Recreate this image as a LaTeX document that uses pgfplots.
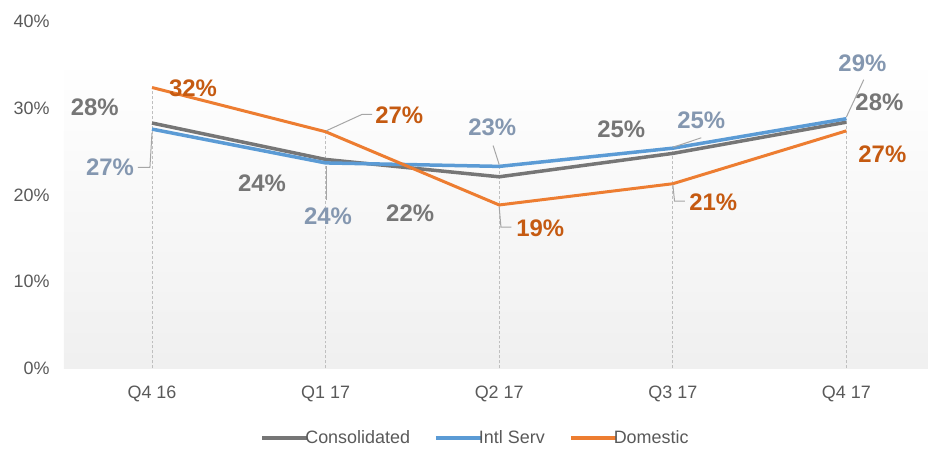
\documentclass[border=0pt]{standalone}
\usepackage{fontspec}
\setmainfont{Liberation Sans}
\usepackage{pgfplots}
\pgfplotsset{compat=1.18}
\definecolor{cgray}{RGB}{118,118,118}
\definecolor{cblue}{RGB}{91,155,213}
\definecolor{corange}{RGB}{237,125,49}
\definecolor{lgray}{RGB}{118,118,118}
\definecolor{lblue}{RGB}{132,151,176}
\definecolor{lorange}{RGB}{197,90,17}
\definecolor{tickc}{RGB}{89,89,89}
\definecolor{leader}{RGB}{166,166,166}
\definecolor{dropc}{RGB}{191,191,191}
\definecolor{axc}{RGB}{217,217,217}
\newcommand{\lab}{\fontsize{24}{26}\selectfont\bfseries}
\begin{document}
\begin{tikzpicture}
\begin{axis}[name=ax,
  scale only axis, width=864bp, height=346.8bp,
  xmin=-0.507, xmax=4.47, ymin=0, ymax=40,
  clip=false,
  axis x line*=bottom, axis y line*=left,
  x axis line style={draw=axc, line width=1.5bp},
  y axis line style={draw=none},
  major tick length=0pt,
  xtick={0,1,2,3,4},
  xticklabels={Q4 16, Q1 17, Q2 17, Q3 17, Q4 17},
  ytick={0,10,20,30,40},
  yticklabel={\pgfmathprintnumber{\tick}\%},
  /pgf/number format/assume math mode=true,
  tick label style={font=\fontsize{18}{20}\selectfont, text=tickc},
  xticklabel style={yshift=-14bp},
  yticklabel style={xshift=-11bp},
  legend style={at={(0.227,-0.2007)}, anchor=west, draw=none, fill=none,
    font=\fontsize{18}{20}\selectfont, text=tickc,
    legend columns=-1, /tikz/every even column/.append style={column sep=22bp},
    inner sep=0pt},
  legend image code/.code={\draw[#1, line width=4bp] (0,0) -- (45bp,0);},
  legend cell align=left,
]
\fill[top color=white, bottom color=black!6] (axis cs:-0.507,0) rectangle (axis cs:4.47,35.6);
\addplot[ycomb, dropc, densely dashed, line width=0.75bp, mark=none, forget plot] coordinates {(0,32.4) (1,27.3) (2,23.3) (3,25.4) (4,28.8)};
\addplot[cgray, line width=3.5bp, mark=none] coordinates {(0,28.3) (1,24.1) (2,22.1) (3,24.8) (4,28.4)};
\addlegendentry{\hspace{-6bp}Consolidated}
\addplot[cblue, line width=3.5bp, mark=none] coordinates {(0,27.6) (1,23.7) (2,23.3) (3,25.4) (4,28.8)};
\addlegendentry{\hspace{-6bp}Intl Serv}
\addplot[corange, line width=3bp, mark=none] coordinates {(0,32.4) (1,27.3) (2,18.85) (3,21.3) (4,27.4)};
\addlegendentry{\hspace{-6bp}Domestic}
% leader lines
\draw[leader, line width=1bp] (axis cs:0,27.2) -- (axis cs:-0.012,23.2) -- (axis cs:-0.081,23.2);
\draw[leader, line width=1bp] (axis cs:1.003,23.3) -- (axis cs:1.003,19.4);
\draw[leader, line width=1bp] (axis cs:1.003,27.4) -- (axis cs:1.21,29.3) -- (axis cs:1.268,29.3);
\draw[leader, line width=1bp] (axis cs:1.965,25.7) -- (axis cs:2.0,23.5);
\draw[leader, line width=1bp] (axis cs:2.0,18.6) -- (axis cs:2.01,16.3) -- (axis cs:2.07,16.3);
\draw[leader, line width=1bp] (axis cs:3.0,25.5) -- (axis cs:3.164,26.6);
\draw[leader, line width=1bp] (axis cs:3.0,21.2) -- (axis cs:3.01,19.3) -- (axis cs:3.07,19.3);
\draw[leader, line width=1bp] (axis cs:4.0,29.0) -- (axis cs:4.1,33.3);
% labels
\node[text=lgray, font=\lab] at (axis cs:-0.33,30.15) {28\%};
\node[text=lorange, font=\lab] at (axis cs:0.236,32.3) {32\%};
\node[text=lblue, font=\lab] at (axis cs:-0.242,23.2) {27\%};
\node[text=lgray, font=\lab] at (axis cs:0.634,21.4) {24\%};
\node[text=lblue, font=\lab] at (axis cs:1.014,17.5) {24\%};
\node[text=lorange, font=\lab] at (axis cs:1.424,29.2) {27\%};
\node[text=lgray, font=\lab] at (axis cs:1.487,17.9) {22\%};
\node[text=lblue, font=\lab] at (axis cs:1.96,27.8) {23\%};
\node[text=lorange, font=\lab] at (axis cs:2.236,16.2) {19\%};
\node[text=lgray, font=\lab] at (axis cs:2.703,27.6) {25\%};
\node[text=lblue, font=\lab] at (axis cs:3.164,28.65) {25\%};
\node[text=lorange, font=\lab] at (axis cs:3.233,19.2) {21\%};
\node[text=lblue, font=\lab] at (axis cs:4.092,35.2) {29\%};
\node[text=lgray, font=\lab] at (axis cs:4.19,30.7) {28\%};
\node[text=lorange, font=\lab] at (axis cs:4.207,24.7) {27\%};
\end{axis}
\pgfresetboundingbox
\path ([shift={(-64bp,-80.6bp)}]ax.south west) rectangle ([shift={(0bp,21.6bp)}]ax.north east);
\end{tikzpicture}
\end{document}
